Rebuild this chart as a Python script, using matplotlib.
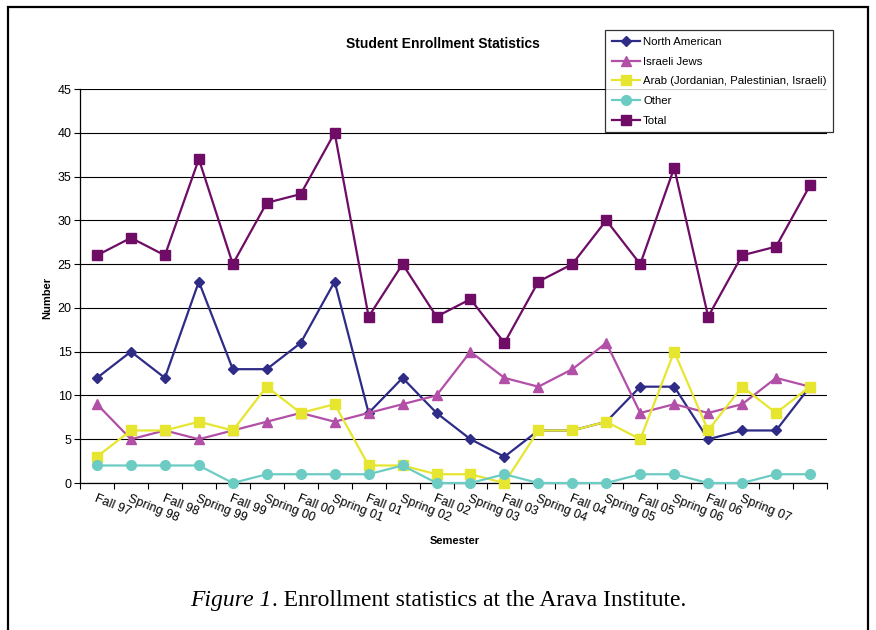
"""Student enrollment by semester, drawn in the style of an Excel line chart."""

import matplotlib
matplotlib.use("Agg")
import matplotlib.pyplot as plt
from matplotlib.patches import Rectangle
import numpy as np

plt.rcParams["font.family"] = ["Liberation Sans", "DejaVu Sans"]

semesters = [
    "Fall 97", "Spring 98", "Fall 98", "Spring 99", "Fall 99", "Spring 00",
    "Fall 00", "Spring 01", "Fall 01", "Spring 02", "Fall 02", "Spring 03",
    "Fall 03", "Spring 04", "Fall 04", "Spring 05", "Fall 05", "Spring 06",
    "Fall 06", "Spring 07", "", "",
]
north_american = [12, 15, 12, 23, 13, 13, 16, 23, 8, 12, 8, 5, 3, 6, 6, 7, 11, 11, 5, 6, 6, 11]
israeli_jews = [9, 5, 6, 5, 6, 7, 8, 7, 8, 9, 10, 15, 12, 11, 13, 16, 8, 9, 8, 9, 12, 11]
arab = [3, 6, 6, 7, 6, 11, 8, 9, 2, 2, 1, 1, 0, 6, 6, 7, 5, 15, 6, 11, 8, 11]
other = [2, 2, 2, 2, 0, 1, 1, 1, 1, 2, 0, 0, 1, 0, 0, 0, 1, 1, 0, 0, 1, 1]
total = [26, 28, 26, 37, 25, 32, 33, 40, 19, 25, 19, 21, 16, 23, 25, 30, 25, 36, 19, 26, 27, 34]

series = [
    ("North American", north_american, "#2E2C86", "D", 5),
    ("Israeli Jews", israeli_jews, "#B24FA6", "^", 6.5),
    ("Arab (Jordanian, Palestinian, Israeli)", arab, "#E6E631", "s", 6.5),
    ("Other", other, "#6CCCC4", "o", 7),
    ("Total", total, "#6E0C66", "s", 6.5),
]

W, H = 876, 630
fig = plt.figure(figsize=(W / 100, H / 100), dpi=100)
ax = fig.add_axes([80 / W, 1 - 483 / H, (827 - 80) / W, (483 - 89) / H])

x = np.arange(len(semesters))
for name, vals, color, marker, ms in series:
    ax.plot(x, vals, color=color, marker=marker, markersize=ms, linewidth=1.6,
            markeredgecolor=color, label=name, clip_on=False, zorder=3)

ax.set_xlim(-0.5, len(semesters) - 0.5)
ax.set_ylim(0, 45)
ax.set_yticks(np.arange(0, 46, 5))
ax.yaxis.grid(True, color="black", linewidth=0.8)
ax.set_axisbelow(True)

# category ticks sit between points, labels on the points
ax.set_xticks(x)
ax.set_xticklabels(semesters, rotation=-22, ha="left", va="top",
                   rotation_mode="anchor", fontsize=9)
ax.tick_params(axis="x", which="major", length=0, pad=7)
ax.set_xticks(np.arange(-0.5, len(semesters)), minor=True)
ax.tick_params(axis="x", which="minor", length=4, width=0.8, direction="out")
ax.tick_params(axis="y", length=4, width=0.8, labelsize=9, pad=2)

for side in ("top", "right"):
    ax.spines[side].set_visible(False)
for side in ("left", "bottom"):
    ax.spines[side].set_linewidth(0.9)

fig.text(443 / W, 1 - 44 / H, "Student Enrollment Statistics", ha="center",
         va="center", fontsize=10, fontweight="bold")
fig.text(47 / W, 1 - 298 / H, "Number", rotation=90, ha="center", va="center",
         fontsize=8, fontweight="bold")
fig.text(455 / W, 1 - 541 / H, "Semester", ha="center", va="center",
         fontsize=8, fontweight="bold")

leg = fig.legend(loc="upper left", bbox_to_anchor=(605 / W, 1 - 30 / H),
                 fontsize=8.2, frameon=True, fancybox=False, shadow=False,
                 handlelength=2.5, handletextpad=0.25, labelspacing=0.85,
                 borderpad=0.6, borderaxespad=0)
leg.get_frame().set_edgecolor("black")
leg.get_frame().set_linewidth(0.9)

# caption: italic figure number followed by upright text, centred as one line
cap_y = 1 - 606 / H
cap_kw = dict(fontsize=17, family="Liberation Serif", va="baseline")
renderer = fig.canvas.get_renderer()
part1 = fig.text(0, cap_y, "Figure 1", style="italic", **cap_kw)
part2 = fig.text(0, cap_y, ". Enrollment statistics at the Arava Institute.", **cap_kw)
w1 = part1.get_window_extent(renderer).width / W
w2 = part2.get_window_extent(renderer).width / W
x0 = 438 / W - (w1 + w2) / 2
part1.set_x(x0)
part2.set_x(x0 + w1)

# page frame around the figure
fig.add_artist(Rectangle((8 / W, -0.02), (868 - 8) / W, 1 - 7 / H + 0.02,
                         transform=fig.transFigure, fill=False,
                         edgecolor="black", linewidth=1.6))

fig.savefig("out.png", dpi=100)
